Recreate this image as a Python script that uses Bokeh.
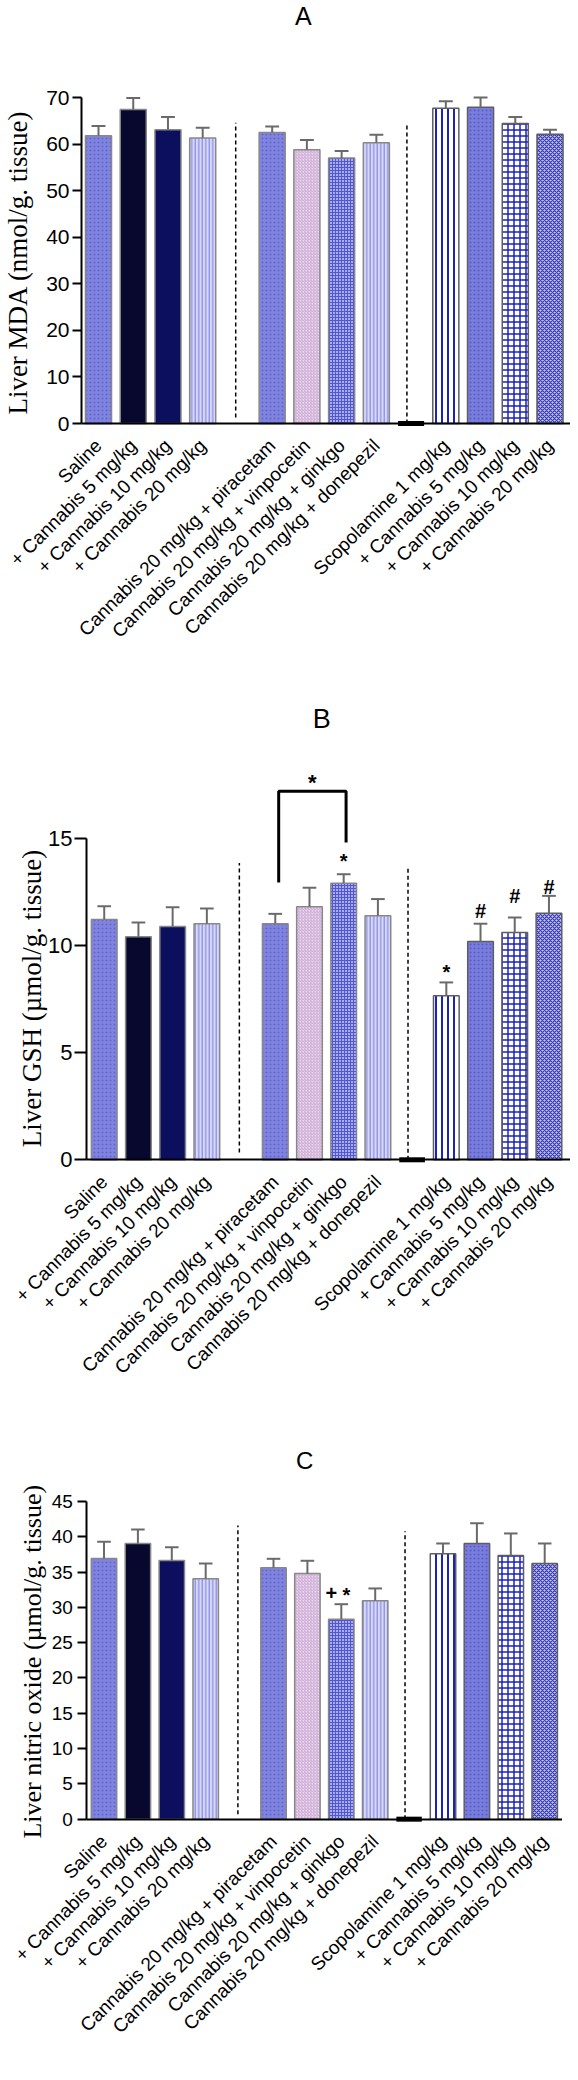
import math
from bokeh.plotting import figure
from bokeh.models import ColumnDataSource, Range1d, FixedTicker
from bokeh.layouts import column
from bokeh.embed import file_html
from bokeh.resources import INLINE
from bokeh.core.properties import value

# ---------------- data ----------------
bar_slots = [0, 1, 2, 3, 5, 6, 7, 8, 10, 11, 12, 13]
placeholder_slot = [9]
group_labels = [
    "Saline", "+ Cannabis 5 mg/kg", "+ Cannabis 10 mg/kg", "+ Cannabis 20 mg/kg",
    "Cannabis 20 mg/kg + piracetam", "Cannabis 20 mg/kg + vinpocetin",
    "Cannabis 20 mg/kg + ginkgo", "Cannabis 20 mg/kg + donepezil",
    "Scopolamine 1 mg/kg", "+ Cannabis 5 mg/kg", "+ Cannabis 10 mg/kg", "+ Cannabis 20 mg/kg",
]

mda_mean = [61.8, 67.4, 63.1, 61.3, 62.5, 58.8, 57.0, 60.3, 67.7, 67.9, 64.4, 62.1]
mda_sem = [2.1, 2.5, 2.7, 2.2, 1.3, 2.1, 1.5, 1.7, 1.5, 2.1, 1.4, 1.0]
gsh_mean = [11.22, 10.41, 10.89, 11.02, 11.02, 11.81, 12.91, 11.39, 7.66, 10.19, 10.61, 11.51]
gsh_sem = [0.61, 0.67, 0.90, 0.71, 0.46, 0.89, 0.42, 0.78, 0.62, 0.83, 0.70, 0.81]
no_mean = [36.93, 39.05, 36.64, 34.05, 35.6, 34.8, 28.33, 30.93, 37.6, 39.05, 37.35, 36.2]
no_sem = [2.37, 1.98, 1.89, 2.15, 1.28, 1.8, 2.12, 1.75, 1.45, 2.85, 3.12, 2.85]

mda_ticks = [0, 10, 20, 30, 40, 50, 60, 70]
gsh_ticks = [0, 5, 10, 15]
no_ticks = [0, 5, 10, 15, 20, 25, 30, 35, 40, 45]

# separators (dashed): bottom/top values
mda_sep_bottom = [1.3, 0.0]
mda_sep_top = [64.6, 64.0]
gsh_sep_bottom = [0.34, 0.0]
gsh_sep_top = [13.85, 13.6]
no_sep_bottom = [0.7, 0.0]
no_sep_top = [41.6, 40.8]

# significance marks (panel B and C)
gsh_mark_slots = [7, 10, 11, 12, 13]
gsh_mark_text = ["*", "*", "#", "#", "#"]
gsh_mark_y = [14.2, 8.98, 11.87, 12.57, 12.95]
gsh_bracket_x = [5.1, 5.1, 7.07, 7.07]
gsh_bracket_y = [12.94, 17.2, 17.2, 14.81]
gsh_bracket_star_y = [17.93]
no_mark_slots = [7, 7]
no_mark_text = ["+", "*"]
no_mark_y = [32.35, 32.67]

# ---------------- styling ----------------
bar_fill = ["#8084de", "#08082f", "#0b0f5d", "#d6d8f8", "#8084de", "#ecd5ee",
            "#a9acee", "#d6d8f8", "#ffffff", "#797ddb", "#ffffff", "#c3c5f3"]
bar_hatch = ["dot", " ", " ", "vertical_line", "dot", "right_diagonal_line",
             "cross", "vertical_line", "vertical_line", "dot", "cross", "diagonal_cross"]
bar_hatch_color = ["#6064cf", "#000000", "#000000", "#777bdc", "#6064cf", "#c9a9d2",
                   "#5357cf", "#777bdc", "#1a22c4", "#5559cc", "#1a22c4", "#3236c0"]
bar_hatch_scale = [4, 4, 4, 3.5, 4, 3, 3, 3.5, 6, 4, 6, 4]
bar_hatch_weight = [1, 1, 1, 1, 1, 1, 1, 1, 2, 1, 1.5, 1.2]
bar_line = ["#888888"] * 8 + ["#5e5e5e"] * 4


def make_panel(title, title_x, title_y, title_size, title_baseline,
               means, sems, ticks, axis_top, sep_bottom, sep_top,
               ylabel, ylabel_x, ylabel_y, ylabel_size,
               width, height, xr, yr, yaxis_x,
               tick_size, tick_len, tick_standoff):
    p = figure(width=width, height=height, x_range=Range1d(*xr), y_range=Range1d(*yr),
               output_backend="svg", toolbar_location=None, min_border=0,
               min_border_left=0, min_border_right=0, min_border_top=0,
               min_border_bottom=0)
    p.outline_line_color = None
    p.xgrid.visible = False
    p.ygrid.visible = False
    p.background_fill_color = "white"
    p.border_fill_color = "white"

    src = ColumnDataSource(dict(x=bar_slots, top=means, fill=bar_fill, hatch=bar_hatch,
                                hcol=bar_hatch_color, hs=bar_hatch_scale,
                                hw=bar_hatch_weight, line=bar_line))
    p.vbar(x="x", top="top", bottom=0, width=0.75, source=src, fill_color="fill",
           line_color="line", line_width=1.5, hatch_pattern="hatch", hatch_color="hcol",
           hatch_scale="hs", hatch_weight="hw")

    tops = [m + s for m, s in zip(means, sems)]
    p.segment(x0=bar_slots, y0=means, x1=bar_slots, y1=tops, line_color="#6a6a6a", line_width=2)
    p.segment(x0=[x - 0.2 for x in bar_slots], y0=tops, x1=[x + 0.2 for x in bar_slots], y1=tops,
              line_color="#6a6a6a", line_width=2)

    # dashed separators
    sep_x = [3.95, 8.88]
    p.segment(x0=sep_x, y0=sep_bottom, x1=sep_x, y1=sep_top, line_color="black",
              line_width=1.5, line_dash="4 3")

    # placeholder black bar for the empty group
    p.rect(x=placeholder_slot, y=[0], width=0.75, height=5, height_units="screen",
           fill_color="black", line_color=None)

    # panel title
    p.text(x=[title_x], y=[title_y], text=[title], text_font=value("Liberation Sans"),
           text_font_size=title_size, text_align="center", text_baseline=title_baseline,
           text_color="black")

    # y label
    p.text(x=[ylabel_x], y=[ylabel_y], text=[ylabel], angle=math.pi / 2,
           text_align="center", text_baseline="middle",
           text_font=value("Liberation Serif"), text_font_size=ylabel_size,
           text_color="black")

    # axes
    ya = p.yaxis[0]
    ya.fixed_location = yaxis_x
    ya.ticker = FixedTicker(ticks=ticks)
    ya.bounds = (0, axis_top)
    ya.axis_line_width = 2
    ya.axis_line_color = "black"
    ya.major_tick_line_width = 2
    ya.major_tick_out = tick_len
    ya.major_tick_in = 0
    ya.minor_tick_line_color = None
    ya.major_label_text_font = "Liberation Sans"
    ya.major_label_text_font_size = tick_size
    ya.major_label_text_color = "black"
    ya.major_label_standoff = tick_standoff

    xa = p.xaxis[0]
    xa.fixed_location = 0
    xa.bounds = (yaxis_x, xr[1])
    xa.ticker = FixedTicker(ticks=bar_slots)
    xa.major_label_overrides = {s: lab for s, lab in zip(bar_slots, group_labels)}
    xa.major_label_orientation = math.pi / 4
    xa.major_tick_line_color = None
    xa.minor_tick_line_color = None
    xa.axis_line_width = 2
    xa.axis_line_color = "black"
    xa.major_label_text_font = "Liberation Sans"
    xa.major_label_text_font_size = "19px"
    xa.major_label_text_color = "black"
    xa.major_label_standoff = 13
    return p


# Panel A  (page y 8..690; zero line at page 431; 4.657 px per unit; slot pitch 34.73 px)
pa = make_panel("A", 5.9, 90.6, "25px", "top",
                mda_mean, mda_sem, mda_ticks, 70, mda_sep_bottom, mda_sep_top,
                "Liver MDA (nmol/g. tissue)", -2.33, 34.6, "27px",
                570, 682, (-2.822, 13.59), (-55.61, 90.83), -0.489,
                "21px", 9, 3)

# Panel B  (page y 690..1440; zero at 1167.3; 21.42 px per unit; pitch 34.2 px)
pb = make_panel("B", 6.36, 20.56, "27px", "middle",
                gsh_mean, gsh_sem, gsh_ticks, 15, gsh_sep_bottom, gsh_sep_top,
                "Liver GSH (µmol/g. tissue)", -2.10, 7.53, "27px",
                570, 750, (-3.032, 13.63), (-12.73, 22.28), -0.518,
                "22px", 12, 2)
pb.line(x=gsh_bracket_x, y=gsh_bracket_y, line_color="black", line_width=3)
pb.text(x=[(gsh_bracket_x[0] + gsh_bracket_x[2]) / 2], y=gsh_bracket_star_y, text=["*"],
        text_font=value("Liberation Sans"), text_font_size="22px", text_font_style="bold",
        text_align="center", text_baseline="middle", y_offset=7)
pb.text(x=gsh_mark_slots, y=gsh_mark_y, text=gsh_mark_text,
        text_font=value("Liberation Sans"), text_font_size="20px", text_font_style="bold",
        text_align="center", text_baseline="middle", y_offset=5)

# Panel C  (page y 1440..2072; zero at 1826.7; 7.06 px per unit; pitch 33.9 px)
pc = make_panel("C", 5.92, 50.8, "24px", "middle",
                no_mean, no_sem, no_ticks, 45, no_sep_bottom, no_sep_top,
                "Liver nitric oxide (µmol/g. tissue)", -2.11, 22.3, "26px",
                562, 632, (-3.053, 13.525), (-34.75, 54.77), -0.507,
                "19px", 9, 5)
pc.text(x=no_mark_slots, y=no_mark_y, text=no_mark_text, x_offset=[-10, 5],
        text_font=value("Liberation Sans"), text_font_size="20px", text_font_style="bold",
        text_align="center", text_baseline="middle", y_offset=[2, 6])

layout = column(pa, pb, pc, spacing=0)
open("out.html", "w").write(file_html(layout, INLINE))
